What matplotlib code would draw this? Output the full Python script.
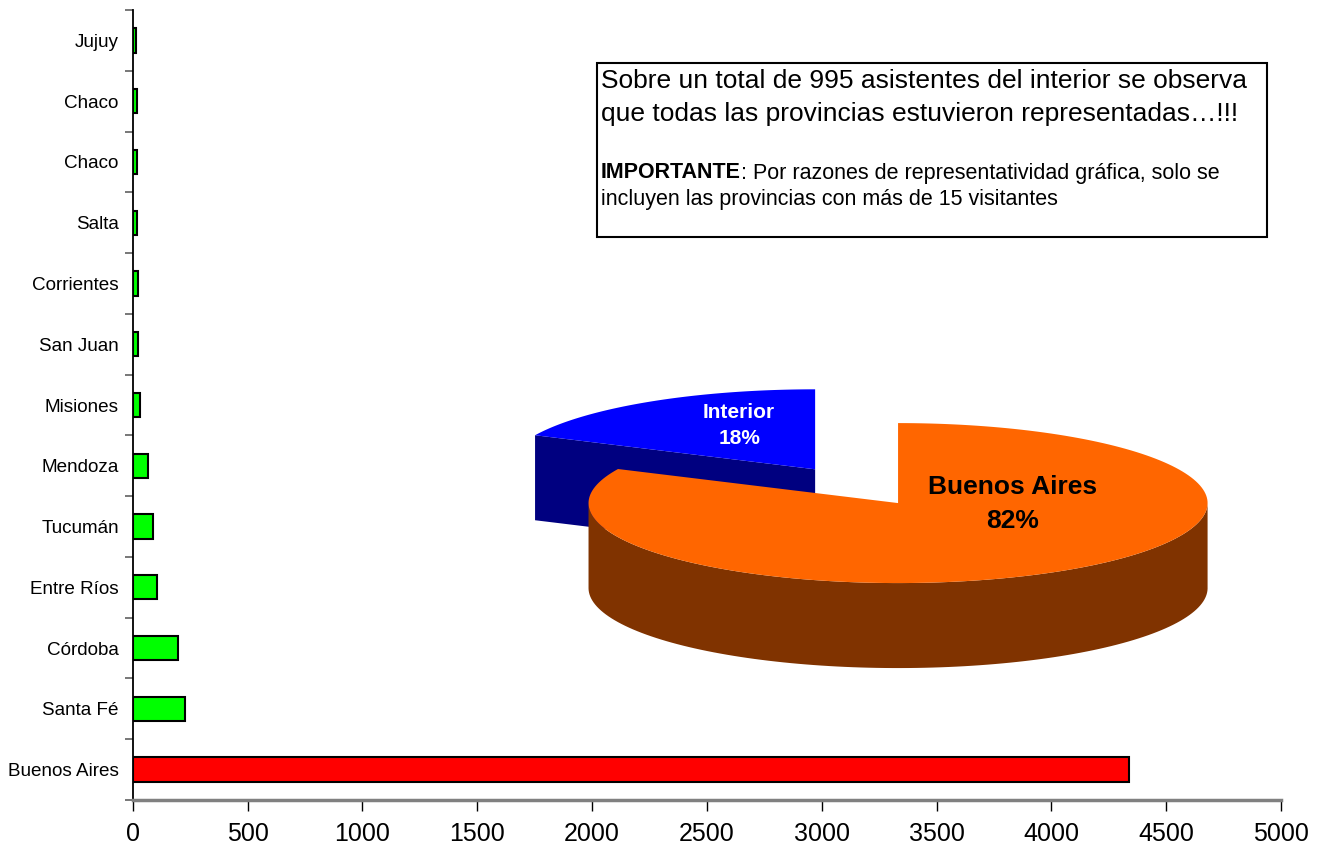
import numpy as np
import matplotlib
matplotlib.use('Agg')
import matplotlib.pyplot as plt
from matplotlib.patches import Polygon, Rectangle

plt.rcParams['font.family'] = ['Liberation Sans', 'DejaVu Sans']

# data (bottom to top)
provincias = ['Buenos Aires', 'Santa Fé', 'Córdoba', 'Entre Ríos', 'Tucumán', 'Mendoza',
              'Misiones', 'San Juan', 'Corrientes', 'Salta', 'Chaco', 'Chaco', 'Jujuy']
visitantes = [4337, 226, 197, 104, 87, 67, 30, 23, 21, 19, 17, 17, 16]
colores = ['#ff0000'] + ['#00ff00'] * 12

pie_labels = ['Buenos Aires', 'Interior']
pie_pct = [82, 18]
pie_top = ['#ff6600', '#0000ff']
pie_side = ['#803300', '#000080']
pie_text = ['black', 'white']

fig = plt.figure(figsize=(13.21, 8.5), dpi=100)
ax = fig.add_axes([0.1005, 0.0588, 0.8693, 0.9294])

y = np.arange(len(provincias))
ax.barh(y, visitantes, height=0.4, color=colores, edgecolor='black', linewidth=1.5, zorder=3)
ax.set_xlim(0, 5000)
ax.set_ylim(-0.5, len(provincias) - 0.5)
ax.set_xticks(np.arange(0, 5001, 500))
ax.set_yticks(y)
ax.set_yticklabels(provincias, fontsize=13.6)
ax.set_yticks(np.arange(-0.5, len(provincias), 1), minor=True)
ax.tick_params(axis='y', which='major', length=0, pad=10)
ax.tick_params(axis='y', which='minor', length=6, width=1.2, color='#606060')
ax.tick_params(axis='x', length=8, width=1, color='black', labelsize=18, pad=8)
for s in ['top', 'right']:
    ax.spines[s].set_visible(False)
ax.spines['left'].set_linewidth(1.3)
ax.spines['bottom'].set_color('#808080')
ax.spines['bottom'].set_linewidth(2.5)

# text box
fig.patches.append(Rectangle((597 / 1321, 1 - 237 / 850), 670 / 1321, 174 / 850,
                             transform=fig.transFigure, fill=False, edgecolor='black',
                             linewidth=1.5))
fig.text(601 / 1321, 1 - 81 / 850, 'Sobre un total de 995 asistentes del interior se observa',
         fontsize=19, va='center')
fig.text(601 / 1321, 1 - 114 / 850, 'que todas las provincias estuvieron representadas…!!!',
         fontsize=19, va='center')
t_imp = fig.text(601 / 1321, 1 - 173 / 850, 'IMPORTANTE', fontsize=15.5, fontweight='bold',
                 va='center')
renderer = fig.canvas.get_renderer()
bb = t_imp.get_window_extent(renderer=renderer)
fig.text(bb.x1 / fig.bbox.width, 1 - 173 / 850,
         ': Por razones de representatividad gráfica, solo se', fontsize=15.5, va='center')
fig.text(601 / 1321, 1 - 200 / 850, 'incluyen las provincias con más de 15 visitantes',
         fontsize=15.5, va='center')

# 3D pie
pax = fig.add_axes([500 / 1321, 1 - 690 / 850, 750 / 1321, 320 / 850])
pax.set_xlim(-1.286, 1.137)
pax.set_ylim(-0.604, 0.43)
pax.axis('off')
b = 80 / 309.5
depth = 85 / 309.5

# Buenos Aires runs clockwise from 12 o'clock, interior fills the rest
end_ba = 90 - pie_pct[0] * 3.6
s0 = (end_ba, 90)              # ccw start, end
s1 = (90, end_ba + 360)


def pt(th, cx, cy):
    t = np.radians(th)
    return cx + np.cos(t), cy + b * np.sin(t)


def draw_slice(th0, th1, cx, cy, top, side, z):
    ts = np.linspace(th0, th1, 200)
    # cut faces, only the ones facing the viewer
    for th, sgn in [(th0, -1), (th1, 1)]:
        nrm = np.sin(np.radians(th + sgn * 90))
        if nrm < -1e-6:
            x1, y1 = pt(th, cx, cy)
            poly = [(cx, cy), (x1, y1), (x1, y1 - depth), (cx, cy - depth)]
            pax.add_patch(Polygon(poly, closed=True, facecolor=side, edgecolor='none', zorder=z))
    # outer side, front part
    front = ts[np.sin(np.radians(ts)) <= 0]
    if len(front) > 1:
        xs = cx + np.cos(np.radians(front))
        ys = cy + b * np.sin(np.radians(front))
        poly = list(zip(xs, ys)) + list(zip(xs[::-1], ys[::-1] - depth))
        pax.add_patch(Polygon(poly, closed=True, facecolor=side, edgecolor='none', zorder=z))
    xs = cx + np.cos(np.radians(ts))
    ys = cy + b * np.sin(np.radians(ts))
    poly = [(cx, cy)] + list(zip(xs, ys))
    pax.add_patch(Polygon(poly, closed=True, facecolor=top, edgecolor='none', zorder=z + 0.5))


# interior slice, exploded
mid = np.radians((s1[0] + s1[1]) / 2)
ex = 0.5
cx1, cy1 = ex * np.cos(mid), ex * b * np.sin(mid)
draw_slice(s1[0], s1[1], cx1, cy1, pie_top[1], pie_side[1], 1)
draw_slice(s0[0], s0[1], 0, 0, pie_top[0], pie_side[0], 2)

pax.text(0.37, -0.003, f'{pie_labels[0]}\n{pie_pct[0]}%', ha='center', va='center',
         fontsize=19, fontweight='bold', color=pie_text[0], linespacing=1.5, zorder=5)
pax.text(cx1 + (741 - 817) / 309.5, cy1 + (468 - 424) / 309.5,
         f'{pie_labels[1]}\n{pie_pct[1]}%', ha='center', va='center',
         fontsize=15, fontweight='bold', color=pie_text[1], linespacing=1.45, zorder=5)

fig.savefig('out.png', dpi=100)
